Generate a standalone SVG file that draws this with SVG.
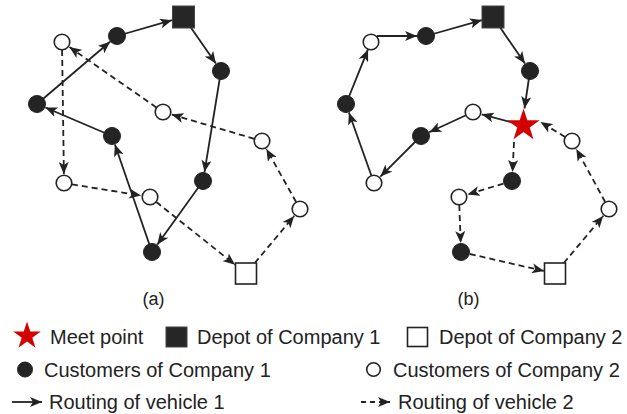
<svg xmlns="http://www.w3.org/2000/svg" width="627" height="414" viewBox="0 0 627 414">
<style>
.c1{fill:#242424;stroke:#222;stroke-width:1}
.c2{fill:#fff;stroke:#222;stroke-width:1.6}
.dep1{fill:#262626;stroke:#444;stroke-width:1}
.dep2{fill:#fff;stroke:#222;stroke-width:1.6}
.v1{fill:none;stroke:#222;stroke-width:1.8;marker-end:url(#arr)}
.v2{fill:none;stroke:#222;stroke-width:1.8;stroke-dasharray:6 4;marker-end:url(#arr)}
.lbl{font-family:"Liberation Sans",Arial,sans-serif;font-size:20px;fill:#222}
.cap{font-family:"Liberation Sans",Arial,sans-serif;font-size:18px;fill:#222;text-anchor:middle}
.star{fill:#d40000}
</style>
<defs>
<marker id="arr" markerUnits="userSpaceOnUse" markerWidth="12" markerHeight="10" viewBox="0 0 12 10" refX="12" refY="5" orient="auto">
<path d="M0,0 L12,5 L0,10 L3,5 z" fill="#222"/>
</marker>
<polygon id="starshape" points="0,-17 3.82,-5.26 16.17,-5.25 6.18,2.01 9.99,13.75 0,6.5 -9.99,13.75 -6.18,2.01 -16.17,-5.25 -3.82,-5.26"/>
</defs>

<g id="connectors">
<!-- panel a, vehicle 1 -->
<path class="v1" d="M152,252 L114.9,144.5"/>
<path class="v1" d="M112,136 L45.3,107.5"/>
<path class="v1" d="M37,104 L110.1,41.8"/>
<path class="v1" d="M117,36 L172,20.2"/>
<path class="v1" d="M183.5,17 L215.9,63.6"/>
<path class="v1" d="M221,71 L204.5,172.1"/>
<path class="v1" d="M203,181 L157.2,244.7"/>
<!-- panel a, vehicle 2 -->
<path class="v2" d="M254.8,263 L294.2,215.9"/>
<path class="v2" d="M296.1,202 L266.4,148.9"/>
<path class="v2" d="M254.3,138.8 L171.6,114.5"/>
<path class="v2" d="M156.4,107.4 L69.4,47.1"/>
<path class="v2" d="M62.1,50 L63.9,174"/>
<path class="v2" d="M71.9,184.3 L141.1,195.6"/>
<path class="v2" d="M156.3,202 L235,264.7"/>
<!-- panel b, vehicle 1 -->
<path class="v1" d="M377,36 L417,36"/>
<path class="v1" d="M426,36 L482,20.1"/>
<path class="v1" d="M493,17 L524.9,63.6"/>
<path class="v1" d="M530,71 L524.5,108.5"/>
<path class="v1" d="M523.5,125.5 L481.7,114.3"/>
<path class="v1" d="M473,112 L429.2,132.2"/>
<path class="v1" d="M421,136 L380.4,176.6"/>
<path class="v1" d="M374,183 L348.9,112.5"/>
<path class="v1" d="M346,104 L368,49.4"/>
<!-- panel b, vehicle 2 -->
<path class="v2" d="M563.8,263 L603.2,215.9"/>
<path class="v2" d="M605.2,202 L576.3,148.9"/>
<path class="v2" d="M565.1,136.9 L540.5,122"/>
<path class="v2" d="M514,142 L512.5,172"/>
<path class="v2" d="M503.4,183.6 L467.6,194.4"/>
<path class="v2" d="M459.3,205 L460.7,243"/>
<path class="v2" d="M469.8,254 L544,271"/>
</g>

<!-- panel a nodes -->
<g id="a-depot1"><rect class="dep1" x="172.5" y="6" width="22" height="22"/></g>
<g id="a-c1-1"><circle class="c1" cx="117" cy="36" r="8.5"/></g>
<g id="a-c2-1"><circle class="c2" cx="62" cy="42" r="7.8"/></g>
<g id="a-c1-2"><circle class="c1" cx="221" cy="71" r="8.5"/></g>
<g id="a-c1-3"><circle class="c1" cx="37" cy="104" r="8.5"/></g>
<g id="a-c2-2"><circle class="c2" cx="163" cy="112" r="7.8"/></g>
<g id="a-c1-4"><circle class="c1" cx="112" cy="136" r="8.5"/></g>
<g id="a-c2-3"><circle class="c2" cx="262" cy="141" r="7.8"/></g>
<g id="a-c2-4"><circle class="c2" cx="64" cy="183" r="7.8"/></g>
<g id="a-c2-5"><circle class="c2" cx="150" cy="197" r="7.8"/></g>
<g id="a-c1-5"><circle class="c1" cx="203" cy="181" r="8.5"/></g>
<g id="a-c2-6"><circle class="c2" cx="300" cy="209" r="7.8"/></g>
<g id="a-c1-6"><circle class="c1" cx="152" cy="252" r="8.5"/></g>
<g id="a-depot2"><rect class="dep2" x="235.5" y="263" width="21" height="21"/></g>
<text class="cap" x="153.5" y="305">(a)</text>

<!-- panel b nodes -->
<g id="b-depot1"><rect class="dep1" x="482" y="6" width="22" height="22"/></g>
<g id="b-c1-1"><circle class="c1" cx="426" cy="36" r="8.5"/></g>
<g id="b-c2-1"><circle class="c2" cx="371" cy="42" r="7.8"/></g>
<g id="b-c1-2"><circle class="c1" cx="530" cy="71" r="8.5"/></g>
<g id="b-c1-3"><circle class="c1" cx="346" cy="104" r="8.5"/></g>
<g id="b-c2-2"><circle class="c2" cx="473" cy="112" r="7.8"/></g>
<g id="b-meet"><use href="#starshape" class="star" x="523.5" y="125.5"/></g>
<g id="b-c1-4"><circle class="c1" cx="421" cy="136" r="8.5"/></g>
<g id="b-c2-3"><circle class="c2" cx="572" cy="141" r="7.8"/></g>
<g id="b-c2-4"><circle class="c2" cx="374" cy="183" r="7.8"/></g>
<g id="b-c1-5"><circle class="c1" cx="512" cy="181" r="8.5"/></g>
<g id="b-c2-5"><circle class="c2" cx="459" cy="197" r="7.8"/></g>
<g id="b-c2-6"><circle class="c2" cx="609" cy="209" r="7.8"/></g>
<g id="b-c1-6"><circle class="c1" cx="461" cy="252" r="8.5"/></g>
<g id="b-depot2"><rect class="dep2" x="544.5" y="263" width="21" height="21"/></g>
<text class="cap" x="468.5" y="305">(b)</text>

<!-- legend -->
<g id="legend">
<use href="#starshape" class="star" transform="translate(27,336) scale(0.85)"/>
<text class="lbl" x="50" y="344">Meet point</text>
<rect class="dep1" x="166" y="327" width="21" height="20"/>
<text class="lbl" x="197" y="344">Depot of Company 1</text>
<rect class="dep2" x="407.5" y="327.5" width="20" height="19"/>
<text class="lbl" x="439" y="344">Depot of Company 2</text>
<circle class="c1" cx="25" cy="369.5" r="7.5"/>
<text class="lbl" x="44" y="376.5">Customers of Company 1</text>
<circle class="c2" cx="373.5" cy="369.5" r="6.8"/>
<text class="lbl" x="393" y="376.5">Customers of Company 2</text>
<path class="v1" d="M12,402 L42,402"/>
<text class="lbl" x="49" y="408.5">Routing of vehicle 1</text>
<path class="v2" style="stroke-dasharray:5 4" d="M361,402 L390,402"/>
<text class="lbl" x="398" y="408.5">Routing of vehicle 2</text>
</g>
</svg>
